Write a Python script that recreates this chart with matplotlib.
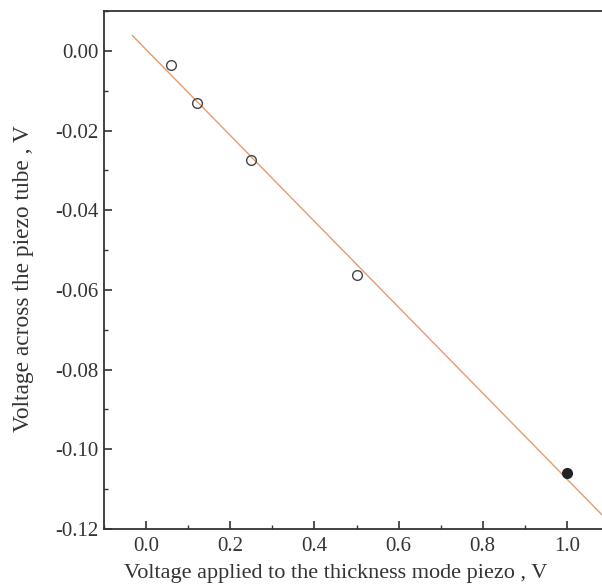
import matplotlib.pyplot as plt
import numpy as np
from matplotlib.ticker import MultipleLocator

# applied voltage (V) and measured tube voltage (V)
applied = [0.06, 0.12, 0.25, 0.50]
tube = [-0.0036, -0.0132, -0.0273, -0.0563]
applied_last = [1.0]
tube_last = [-0.106]

plt.rcParams['font.family'] = ['Liberation Serif', 'DejaVu Serif']

fig = plt.figure(figsize=(6.02, 5.87), dpi=100)
ax = fig.add_axes([0.1728, 0.0988, 0.8388, 0.8825])

# linear fit through all points
x_all = np.array(applied + applied_last)
y_all = np.array(tube + tube_last)
coeffs = np.polyfit(x_all, y_all, 1)
x_fit = np.array([-0.0325, 1.1])
ax.plot(x_fit, np.polyval(coeffs, x_fit), color='#e59a72', lw=1.0, zorder=1)

ax.plot(applied, tube, 'o', mfc='none', mec='#444444', mew=1.0, ms=7, zorder=2)
ax.plot(applied_last, tube_last, 'o', mfc='#222222', mec='#222222', ms=7, zorder=2)

ax.set_xlim(-0.1, 1.1)
ax.set_ylim(-0.12, 0.01)
ax.xaxis.set_major_locator(MultipleLocator(0.2))
ax.xaxis.set_minor_locator(MultipleLocator(0.1))
ax.yaxis.set_major_locator(MultipleLocator(0.02))
ax.yaxis.set_minor_locator(MultipleLocator(0.01))
ax.xaxis.set_major_formatter(plt.FuncFormatter(lambda v, p: f"{v:.1f}"))
ax.yaxis.set_major_formatter(plt.FuncFormatter(lambda v, p: f"{v:.2f}"))

ax.tick_params(which='major', direction='in', length=6, width=1.2,
               labelsize=15, colors='#333333')
ax.tick_params(which='minor', direction='in', length=3, width=1.0, color='#333333')
ax.tick_params(axis='x', pad=6)
ax.tick_params(axis='y', pad=4)
for sp in ax.spines.values():
    sp.set_linewidth(1.3)
    sp.set_color('#333333')

ax.set_xlabel("Voltage applied to the thickness mode piezo , V", fontsize=16,
              color='#333333', labelpad=2)
ax.xaxis.set_label_coords(0.459, -0.067)
ax.set_ylabel("Voltage across the piezo tube , V", fontsize=16.8,
              color='#333333')
ax.yaxis.set_label_coords(-0.139, 0.483)

fig.savefig("out.png", dpi=100)
